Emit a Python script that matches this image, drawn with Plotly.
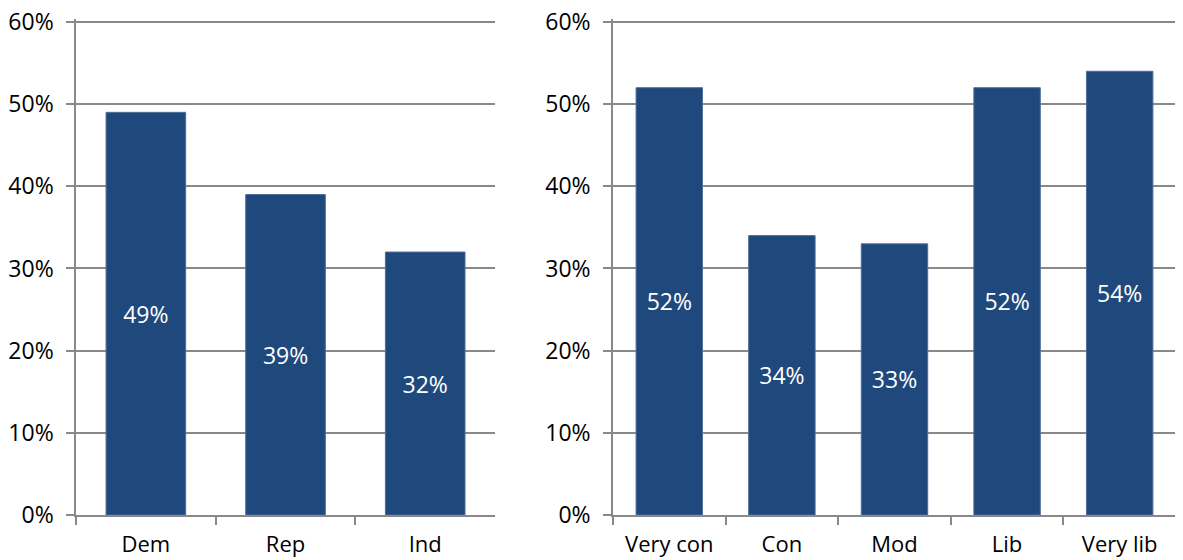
import plotly.graph_objs as go
from plotly.subplots import make_subplots

party_labels = ["Dem", "Rep", "Ind"]
party_values = [0.49, 0.39, 0.32]

ideology_labels = ["Very con", "Con", "Mod", "Lib", "Very lib"]
ideology_values = [0.52, 0.34, 0.33, 0.52, 0.54]

y_ticks = [0, 0.1, 0.2, 0.3, 0.4, 0.5, 0.6]

bar_color = "#1F497D"
grid_color = "#898989"
font_family = "Open Sans, Liberation Sans, sans-serif"

fig = make_subplots(rows=1, cols=2)

for col, (labels, values, width) in enumerate(
    [(party_labels, party_values, 0.57), (ideology_labels, ideology_values, 0.59)], start=1
):
    fig.add_trace(go.Bar(
        x=labels, y=values, width=width,
        marker=dict(color=bar_color, line=dict(color="#4F6E98", width=1)),
        text=[f"{round(v * 100)}%" for v in values],
        textposition="inside", insidetextanchor="middle",
        textfont=dict(color="white", size=23, family=font_family),
        showlegend=False,
    ), row=1, col=col)

axis_style = dict(
    showline=True, linecolor=grid_color, linewidth=1.5,
    ticks="outside", ticklen=8, tickcolor=grid_color, tickwidth=1.5,
    automargin=False, ticklabeloverflow="allow",
)

fig.update_xaxes(
    tickson="boundaries", showgrid=False, ticklabelstandoff=9,
    tickfont=dict(size=22, color="black", family=font_family),
    **axis_style
)
# small headroom so the 60% gridline is kept (edge gridlines get dropped)
fig.update_yaxes(
    range=[0, 0.603], tickvals=y_ticks, tickformat=".0%",
    showgrid=True, gridcolor=grid_color, gridwidth=1.5, zeroline=False,
    ticklabelstandoff=8,
    tickfont=dict(size=23, color="black", family=font_family),
    **axis_style
)

# the page body adds an 8px offset, so domains are shifted to compensate
fig.update_layout(
    xaxis=dict(domain=[0.0575, 0.4117]),
    xaxis2=dict(domain=[0.5114, 0.9873]),
    yaxis=dict(domain=[0.0946, 0.9795]),
    yaxis2=dict(domain=[0.0946, 0.9795]),
    width=1183, height=560,
    margin=dict(l=0, r=0, t=0, b=0),
    plot_bgcolor="white", paper_bgcolor="white",
    bargap=0.4,
)

fig.write_html("out.html")
